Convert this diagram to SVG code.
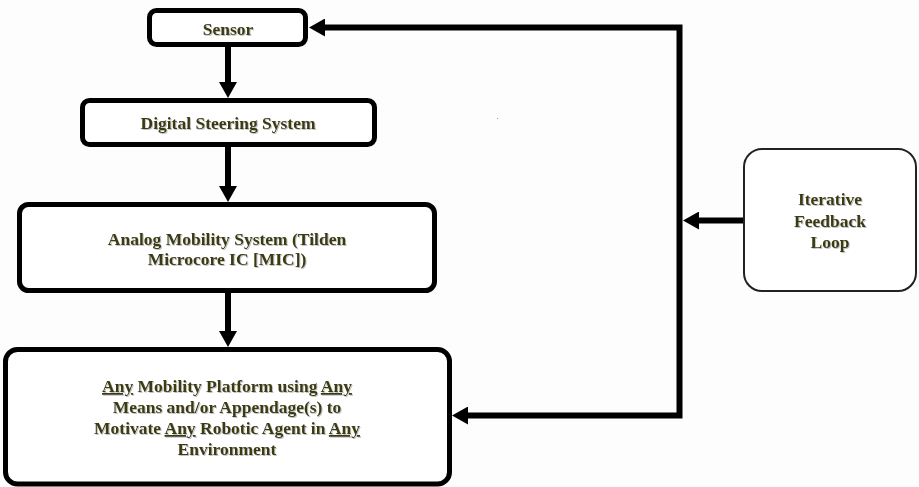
<svg xmlns="http://www.w3.org/2000/svg" width="919" height="487" viewBox="0 0 919 487">
  <style>
    .box { fill: #ffffff; stroke: #000000; stroke-width: 5; }
    .soft { fill: #ffffff; stroke: #222222; stroke-width: 2; }
    .lbl { font-family: "Liberation Serif", "Times New Roman", serif; font-weight: bold; font-size: 17.5px; fill: #3a3a10; text-anchor: middle; filter: url(#shade); }
    .u { text-decoration: underline; }
    .wire { fill: none; stroke: #000000; stroke-width: 6; stroke-linejoin: miter; }
  </style>
  <defs>
    <filter id="shade" x="-10%" y="-30%" width="120%" height="160%">
      <feDropShadow dx="1" dy="1" stdDeviation="0.4" flood-color="#9a9a9a" flood-opacity="0.6"/>
    </filter>
    <!-- arrowhead: base sits on the path end, tip points onward -->
    <marker id="head" markerUnits="userSpaceOnUse" markerWidth="17" markerHeight="18" refX="0" refY="9" orient="auto-start-reverse">
      <path d="M0,0 L16,9 L0,18 Z" fill="#000000"/>
    </marker>
  </defs>

  <rect width="919" height="487" fill="#fdfdfd"/>
  <rect x="497" y="118" width="1" height="1" fill="#999999"/>

  <!-- connectors -->
  <g id="connectors">
    <path class="wire" d="M228,47 V82" marker-end="url(#head)"/>
    <path class="wire" d="M228,147 V186" marker-end="url(#head)"/>
    <path class="wire" d="M228,293 V331" marker-end="url(#head)"/>
    <path class="wire" d="M468,415.5 H679.5 V27.5 H325" marker-start="url(#head)" marker-end="url(#head)"/>
    <path class="wire" d="M744,220.5 H699" stroke-width="5" marker-end="url(#head)"/>
  </g>

  <g id="sensor">
    <rect class="box" x="149.5" y="10.5" width="156" height="34" rx="7"/>
    <text class="lbl" x="228" y="35">Sensor</text>
  </g>

  <g id="digital-steering">
    <rect class="box" x="82.5" y="100.5" width="292" height="44" rx="7"/>
    <text class="lbl" x="228" y="129">Digital Steering System</text>
  </g>

  <g id="analog-mobility">
    <rect class="box" x="19.5" y="204.5" width="415" height="86" rx="9"/>
    <text class="lbl" x="227" y="245">Analog Mobility System (Tilden</text>
    <text class="lbl" x="227" y="265">Microcore IC [MIC])</text>
  </g>

  <g id="mobility-platform">
    <rect class="box" x="5.5" y="349.5" width="444" height="134.5" rx="12"/>
    <text class="lbl" x="227" y="392"><tspan class="u">Any</tspan> Mobility Platform using <tspan class="u">Any</tspan></text>
    <text class="lbl" x="227" y="413">Means and/or Appendage(s) to</text>
    <text class="lbl" x="227" y="434">Motivate <tspan class="u">Any</tspan> Robotic Agent in <tspan class="u">Any</tspan></text>
    <text class="lbl" x="227" y="455">Environment</text>
  </g>

  <g id="feedback-loop">
    <rect class="soft" x="744" y="149" width="172" height="142" rx="18"/>
    <text class="lbl" x="830" y="205">Iterative</text>
    <text class="lbl" x="830" y="227">Feedback</text>
    <text class="lbl" x="830" y="248">Loop</text>
  </g>
</svg>
